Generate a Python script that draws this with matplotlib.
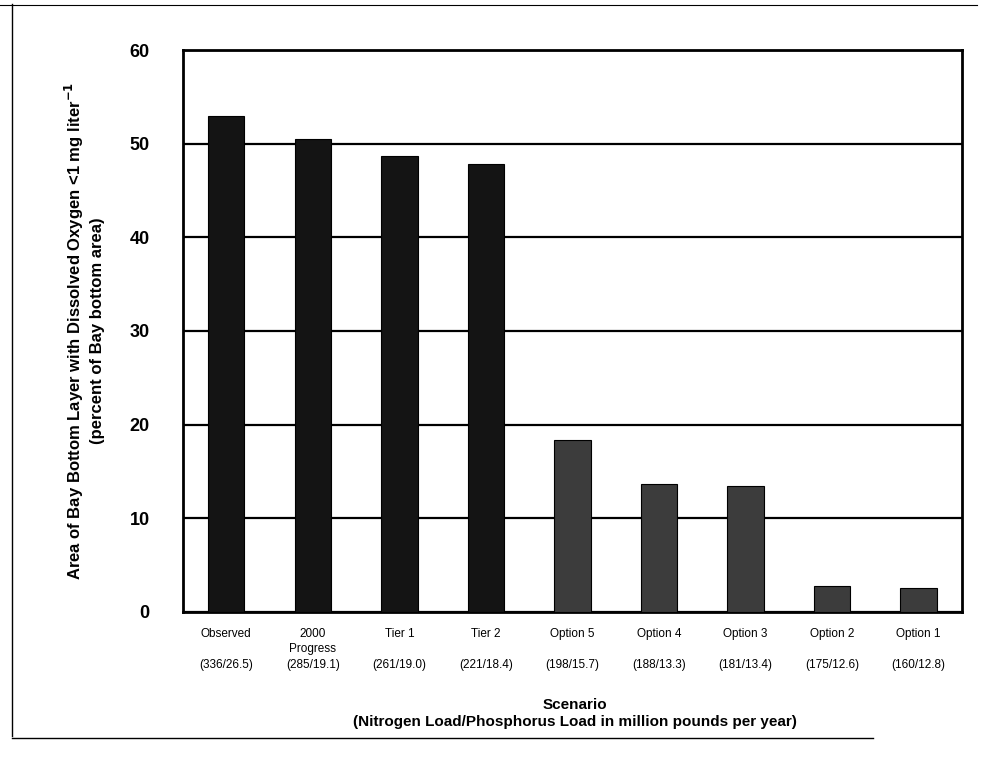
import matplotlib.pyplot as plt
from matplotlib.lines import Line2D

plt.rcParams["font.family"] = ["Liberation Sans", "DejaVu Sans"]

SCENARIOS = ["Observed", "2000\nProgress", "Tier 1", "Tier 2", "Option 5",
             "Option 4", "Option 3", "Option 2", "Option 1"]
LOADS     = ["(336/26.5)", "(285/19.1)", "(261/19.0)", "(221/18.4)", "(198/15.7)",
             "(188/13.3)", "(181/13.4)", "(175/12.6)", "(160/12.8)"]
AREA_PCT  = [53.0, 50.5, 48.7, 47.8, 18.3, 13.6, 13.4, 2.7, 2.5]
BAR_KIND  = ["dark", "dark", "dark", "dark", "grey", "grey", "grey", "grey", "grey"]
Y_TICKS   = [0, 10, 20, 30, 40, 50, 60]

COLORS = {"dark": "#141414", "grey": "#3c3c3c"}


def main():
    fig = plt.figure(figsize=(9.92, 7.59), dpi=100)
    ax = fig.add_axes([0.1845, 0.194, 0.785, 0.74])

    x = list(range(len(SCENARIOS)))
    ax.bar(x, AREA_PCT, width=0.42, color=[COLORS[k] for k in BAR_KIND],
           edgecolor="black", linewidth=0.8, zorder=3)

    ax.set_xlim(-0.5, len(SCENARIOS) - 0.5)
    ax.set_ylim(0, 60)
    ax.set_yticks(Y_TICKS)
    ax.set_yticklabels([str(t) for t in Y_TICKS], fontsize=13, fontweight="bold")
    ax.tick_params(axis="y", length=0, pad=24)
    ax.tick_params(axis="x", length=0)
    ax.set_xticks([])
    ax.grid(axis="y", color="black", linewidth=1.6, zorder=1)
    for s in ax.spines.values():
        s.set_linewidth(2.0)
        s.set_color("black")

    # category names and loads below the axis
    for i, (name, load) in enumerate(zip(SCENARIOS, LOADS)):
        ax.annotate(name, xy=(i, 0), xycoords=("data", "axes fraction"),
                    xytext=(0, -12), textcoords="offset points",
                    ha="center", va="top", fontsize=8.5, linespacing=1.3)
        ax.annotate(load, xy=(i, 0), xycoords=("data", "axes fraction"),
                    xytext=(0, -34), textcoords="offset points",
                    ha="center", va="top", fontsize=8.5)

    ax.set_ylabel("Area of Bay Bottom Layer with Dissolved Oxygen <1 mg liter$^{\\mathbf{-1}}$\n"
                  "(percent of Bay bottom area)",
                  fontsize=12, fontweight="bold", labelpad=18, linespacing=1.3)

    fig.text(0.58, 0.060, "Scenario\n(Nitrogen Load/Phosphorus Load in million pounds per year)",
             ha="center", va="center", fontsize=11, fontweight="bold", linespacing=1.2)

    # scan frame around the page
    fig.add_artist(Line2D([0.012, 0.012], [0.03, 0.995], color="black", lw=1.0))
    fig.add_artist(Line2D([0.012, 0.88], [0.028, 0.028], color="black", lw=1.0))
    fig.add_artist(Line2D([0.0, 0.985], [0.994, 0.994], color="black", lw=0.8))

    fig.savefig("out.png", dpi=100)


if __name__ == "__main__":
    main()
